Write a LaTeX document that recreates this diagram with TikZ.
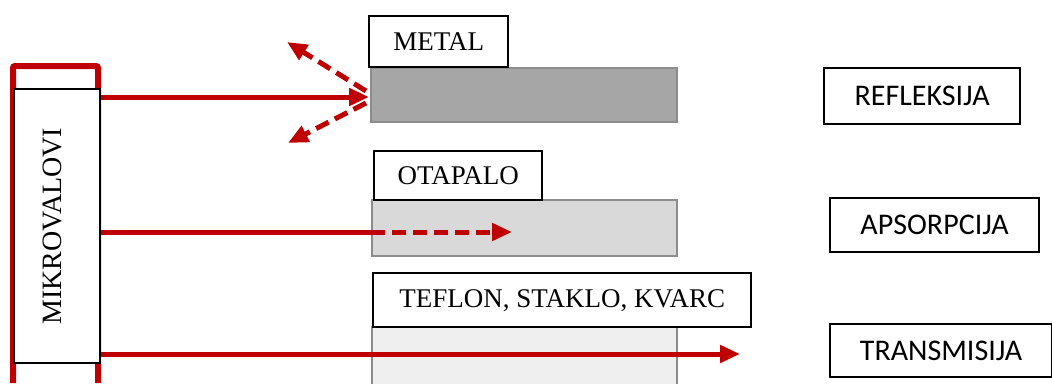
\documentclass[tikz,border=0pt]{standalone}
\usepackage{fontspec}
\setmainfont{Liberation Serif}
\newfontfamily\calib{Carlito}
\usetikzlibrary{arrows.meta}
\definecolor{wred}{HTML}{C00000}
\definecolor{metalg}{HTML}{A6A6A6}
\definecolor{solvg}{HTML}{D9D9D9}
\definecolor{glassg}{HTML}{EFEFEF}
\tikzset{
  lbl/.style={draw=black, line width=2.4pt, fill=white, inner sep=0pt, anchor=north west, font=\fontsize{27}{30}\selectfont},
  rbox/.style={draw=black, line width=2.2pt, fill=white, inner sep=0pt, anchor=north west, font=\calib\fontsize{30}{32}\selectfont},
  slab/.style={draw=black!45, line width=1.8pt, inner sep=0pt, anchor=north west},
  ray/.style={draw=wred, line width=5pt},
  rayarrow/.style={ray, -{Triangle[length=20pt,width=17pt]}},
  dashray/.style={rayarrow, dash pattern=on 14pt off 7pt}
}
\begin{document}
\begin{tikzpicture}[x=1pt,y=-1pt]
\useasboundingbox (0,0) rectangle (1052,383);
% red frame behind MIKROVALOVI
\draw[wred, line width=6pt, rounded corners=2pt] (13,383) -- (13,66) -- (98,66) -- (98,383);
\node[lbl, minimum width=86pt, minimum height=274pt] (mw) at (13,88) {};
\node[rotate=90, font=\fontsize{28}{30}\selectfont] (mwt) at ([xshift=-5pt]mw.center) {MIKROVALOVI};
% slabs
\node[slab, fill=metalg, minimum width=306pt, minimum height=54pt] (metal) at (370,67) {};
\node[slab, fill=solvg, minimum width=305pt, minimum height=56pt] (solv) at (371,199) {};
\node[slab, fill=glassg, minimum width=305pt, minimum height=70pt] (glass) at (371,326) {};
% labels
\node[lbl, minimum width=139pt, minimum height=51pt] (lmetal) at (368,15) {METAL};
\node[lbl, minimum width=168pt, minimum height=49pt] (lsolv) at (373,150) {OTAPALO};
\node[lbl, minimum width=378pt, minimum height=54pt] (lglass) at (372,272) {TEFLON, STAKLO, KVARC};
% right boxes
\node[rbox, minimum width=196pt, minimum height=56pt] (refl) at (823,67) {REFLEKSIJA};
\node[rbox, minimum width=209pt, minimum height=54pt] (aps) at (829,197) {APSORPCIJA};
\node[rbox, minimum width=222pt, minimum height=53pt] (trans) at (829,323) {TRANSMISIJA};
% rays
\coordinate (r1) at (369,97);
\coordinate (r2) at (371,232);
\coordinate (r2e) at (512,232);
\coordinate (r3e) at (740,354);
\coordinate (up) at (287,42);
\coordinate (dn) at (288,143);
\coordinate (ru) at (366,91);
\coordinate (rd) at (366,103);
\draw[rayarrow] (mw.east |- r1) -- (r1);
\draw[dashray] (ru) -- (up);
\draw[dashray] (rd) -- (dn);
\draw[ray] (mw.east |- r2) -- (r2);
\draw[dashray] (r2) -- (r2e);
\draw[rayarrow] (mw.east |- r3e) -- (r3e);
\end{tikzpicture}
\end{document}
